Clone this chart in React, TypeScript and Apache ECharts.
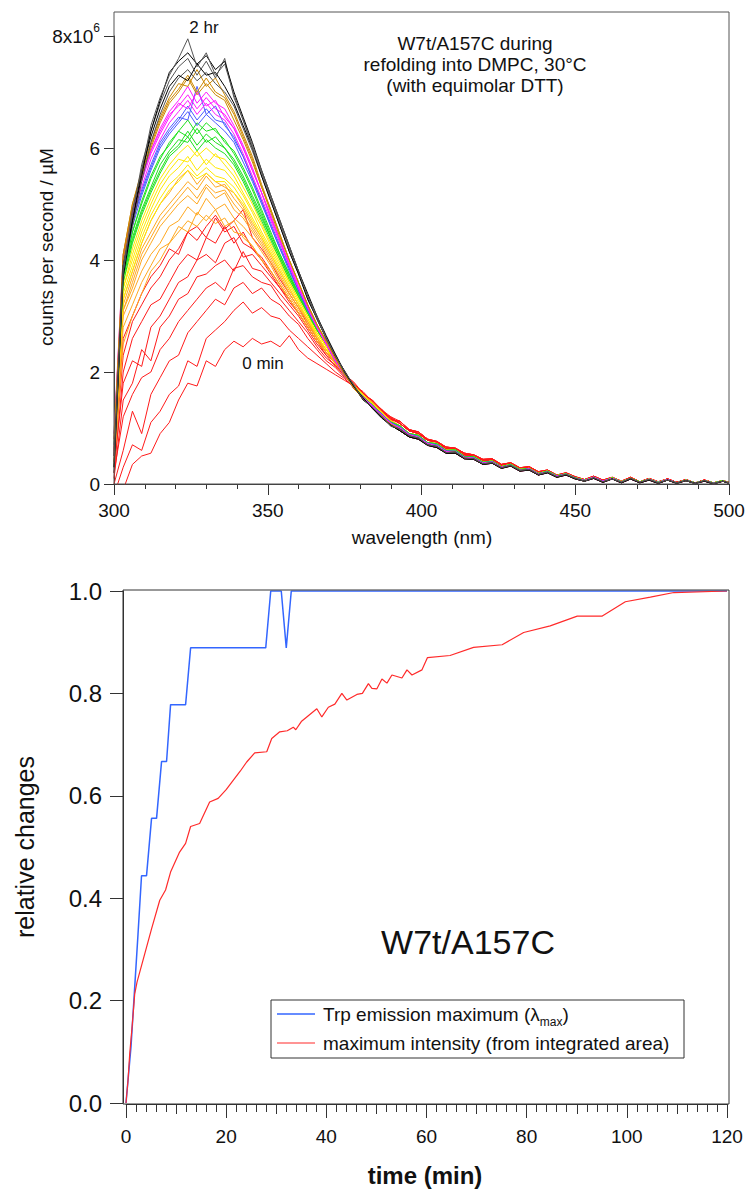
import React, { useEffect, useRef } from "react";
import * as echarts from "echarts";

// ---------- top panel: emission spectra (values in 10^6 counts per second / µM) ----------
const WAVELENGTH_HEAD = [300, 303, 306, 309, 312, 315, 318, 321, 324, 327, 330, 333, 336, 339, 342, 345, 348, 351, 354, 357, 360, 363, 366, 369, 372, 375, 378, 381, 384, 387, 390];
const WAVELENGTH_TAIL = [393, 396, 399, 402, 405, 408, 411, 414, 417, 420, 423, 426, 429, 432, 435, 438, 441, 444, 447, 450, 453, 456, 459, 462, 465, 468, 471, 474, 477, 480, 483, 486, 489, 492, 495, 498, 500];

const TAIL_EARLY = [1.08, 0.95, 0.9, 0.78, 0.75, 0.63, 0.63, 0.52, 0.51, 0.42, 0.43, 0.33, 0.37, 0.27, 0.3, 0.2, 0.24, 0.15, 0.19, 0.12, 0.07, 0.13, 0.06, 0.11, 0.04, 0.11, 0.04, 0.09, 0.03, 0.09, 0.03, 0.07, 0.02, 0.07, 0.02, 0.06, 0.02];
const TAIL_EARLY_B = [1.12, 0.97, 0.93, 0.8, 0.76, 0.66, 0.64, 0.55, 0.52, 0.44, 0.45, 0.35, 0.38, 0.29, 0.31, 0.22, 0.25, 0.16, 0.2, 0.13, 0.08, 0.14, 0.07, 0.12, 0.05, 0.12, 0.04, 0.1, 0.04, 0.09, 0.03, 0.08, 0.02, 0.07, 0.02, 0.06, 0.03];
const TAIL_MID_A = [1.02, 0.89, 0.85, 0.73, 0.7, 0.59, 0.59, 0.48, 0.47, 0.38, 0.4, 0.3, 0.34, 0.25, 0.27, 0.18, 0.22, 0.14, 0.18, 0.11, 0.06, 0.12, 0.05, 0.1, 0.04, 0.1, 0.03, 0.09, 0.03, 0.08, 0.02, 0.07, 0.02, 0.06, 0.02, 0.05, 0.02];
const TAIL_MID_B = [1.0, 0.88, 0.83, 0.72, 0.68, 0.58, 0.57, 0.47, 0.46, 0.37, 0.39, 0.3, 0.33, 0.24, 0.27, 0.18, 0.21, 0.14, 0.17, 0.1, 0.06, 0.12, 0.05, 0.1, 0.03, 0.09, 0.03, 0.08, 0.02, 0.08, 0.02, 0.06, 0.01, 0.06, 0.01, 0.05, 0.02];
const TAIL_MID_C = [1.04, 0.9, 0.87, 0.74, 0.72, 0.6, 0.61, 0.49, 0.49, 0.39, 0.41, 0.31, 0.35, 0.26, 0.28, 0.19, 0.23, 0.15, 0.18, 0.11, 0.07, 0.12, 0.05, 0.11, 0.04, 0.1, 0.04, 0.08, 0.03, 0.08, 0.02, 0.07, 0.02, 0.06, 0.02, 0.06, 0.02];
const TAIL_LATE = [0.98, 0.86, 0.82, 0.7, 0.67, 0.56, 0.57, 0.46, 0.45, 0.36, 0.38, 0.29, 0.33, 0.24, 0.26, 0.17, 0.21, 0.13, 0.17, 0.1, 0.05, 0.11, 0.04, 0.09, 0.03, 0.1, 0.03, 0.08, 0.02, 0.07, 0.02, 0.06, 0.01, 0.06, 0.01, 0.05, 0.02];
const TAIL_LATE_B = [0.95, 0.84, 0.8, 0.69, 0.65, 0.55, 0.55, 0.45, 0.44, 0.35, 0.37, 0.28, 0.32, 0.23, 0.25, 0.16, 0.2, 0.12, 0.16, 0.09, 0.05, 0.1, 0.03, 0.09, 0.02, 0.09, 0.02, 0.07, 0.01, 0.07, 0.01, 0.06, 0.01, 0.05, 0.0, 0.05, 0.01];

const RED_SPECTRA = [
  [-0.4, -0.1, 0.35, 0.5, 0.55, 0.9, 1.1, 1.5, 1.8, 1.75, 2.2, 2.1, 2.4, 2.55, 2.45, 2.6, 2.5, 2.55, 2.45, 2.65, 2.4, 2.25, 2.15, 2.05, 1.95, 1.85, 1.75, 1.62, 1.48, 1.3, 1.18],
  [-0.2, 0.3, 0.7, 0.6, 1.1, 1.3, 1.6, 1.75, 2.2, 2.1, 2.6, 2.75, 2.9, 3.1, 3.25, 3.05, 3.15, 3.0, 2.95, 2.75, 2.6, 2.45, 2.3, 2.15, 2.0, 1.88, 1.72, 1.6, 1.5, 1.33, 1.2],
  [0.0, 0.6, 1.3, 0.9, 1.6, 1.9, 2.2, 2.3, 2.7, 2.9, 3.1, 3.3, 3.2, 3.5, 3.6, 3.4, 3.5, 3.3, 3.2, 3.0, 2.85, 2.6, 2.4, 2.2, 2.08, 1.9, 1.78, 1.58, 1.47, 1.3, 1.16],
  [0.2, 1.2, 1.6, 1.9, 2.0, 2.4, 2.6, 2.9, 3.1, 3.3, 3.5, 3.6, 3.45, 3.85, 3.9, 3.7, 3.6, 3.55, 3.3, 3.1, 2.9, 2.7, 2.45, 2.25, 2.12, 1.92, 1.74, 1.63, 1.44, 1.34, 1.14],
  [0.1, 1.5, 1.8, 2.4, 2.2, 2.8, 3.0, 3.3, 3.4, 3.7, 3.75, 3.9, 4.0, 3.8, 4.15, 3.85, 3.8, 3.6, 3.4, 3.2, 3.0, 2.75, 2.5, 2.3, 2.1, 1.98, 1.78, 1.6, 1.5, 1.28, 1.2],
  [0.3, 1.8, 2.2, 2.1, 2.8, 3.0, 3.3, 3.6, 3.7, 4.0, 4.1, 3.95, 4.3, 4.4, 4.05, 4.1, 3.9, 3.7, 3.5, 3.25, 3.05, 2.8, 2.55, 2.3, 2.18, 1.95, 1.82, 1.62, 1.46, 1.33, 1.15],
  [0.2, 2.0, 2.6, 2.9, 3.2, 3.3, 3.6, 3.9, 4.1, 4.0, 4.4, 4.3, 4.6, 4.3, 4.5, 4.2, 4.05, 3.8, 3.55, 3.3, 3.05, 2.8, 2.55, 2.35, 2.15, 2.0, 1.76, 1.65, 1.47, 1.3, 1.18],
  [0.4, 2.3, 2.9, 3.2, 3.5, 3.7, 4.0, 4.2, 4.5, 4.35, 4.6, 4.8, 4.55, 4.7, 4.9, 4.4, 4.2, 3.95, 3.65, 3.4, 3.15, 2.85, 2.6, 2.35, 2.2, 1.96, 1.8, 1.6, 1.48, 1.32, 1.14],
  [0.5, 2.6, 3.0, 3.4, 3.7, 3.9, 4.2, 4.1, 4.5, 4.6, 4.4, 4.75, 4.5, 4.6, 4.3, 4.2, 4.0, 3.75, 3.5, 3.3, 3.05, 2.8, 2.55, 2.35, 2.16, 1.94, 1.77, 1.63, 1.45, 1.31, 1.17],
];
const ORANGE_SPECTRA = [
  [0.3, 2.5, 3.0, 3.4, 3.8, 4.0, 4.3, 4.5, 4.7, 4.6, 4.8, 4.65, 4.75, 4.5, 4.45, 4.25, 4.0, 3.8, 3.55, 3.3, 3.05, 2.8, 2.55, 2.35, 2.15, 1.96, 1.76, 1.6, 1.46, 1.3, 1.12],
  [0.5, 2.8, 3.2, 3.6, 3.9, 4.2, 4.3, 4.6, 4.5, 4.85, 4.7, 4.9, 4.6, 4.7, 4.4, 4.25, 4.0, 3.8, 3.55, 3.3, 3.05, 2.8, 2.55, 2.35, 2.17, 1.93, 1.78, 1.57, 1.47, 1.28, 1.14],
  [0.6, 3.0, 3.4, 3.8, 4.1, 4.3, 4.6, 4.7, 4.95, 4.8, 5.1, 4.9, 5.0, 4.75, 4.6, 4.4, 4.15, 3.9, 3.6, 3.35, 3.1, 2.85, 2.6, 2.35, 2.14, 1.97, 1.74, 1.6, 1.42, 1.29, 1.11],
  [0.4, 3.1, 3.5, 4.0, 4.3, 4.6, 4.8, 5.0, 5.15, 5.0, 5.3, 5.1, 5.2, 4.9, 4.75, 4.5, 4.25, 3.95, 3.7, 3.4, 3.15, 2.9, 2.6, 2.4, 2.16, 1.94, 1.77, 1.56, 1.45, 1.25, 1.13],
  [0.6, 3.1, 3.6, 4.1, 4.4, 4.7, 4.9, 5.1, 5.3, 5.1, 5.35, 5.2, 5.25, 5.0, 4.8, 4.55, 4.3, 4.0, 3.7, 3.4, 3.15, 2.9, 2.6, 2.4, 2.22, 1.95, 1.73, 1.6, 1.41, 1.28, 1.1],
  [0.7, 3.2, 3.7, 4.2, 4.5, 4.8, 5.0, 5.2, 5.4, 5.25, 5.5, 5.3, 5.35, 5.1, 4.9, 4.6, 4.35, 4.05, 3.75, 3.45, 3.2, 2.9, 2.65, 2.4, 2.18, 1.98, 1.76, 1.57, 1.44, 1.26, 1.12],
  [0.5, 3.3, 3.8, 4.3, 4.7, 5.0, 5.2, 5.45, 5.6, 5.35, 5.55, 5.4, 5.3, 5.2, 4.95, 4.65, 4.4, 4.1, 3.8, 3.5, 3.2, 2.95, 2.65, 2.4, 2.2, 1.94, 1.77, 1.59, 1.42, 1.29, 1.1],
];
const YELLOW_SPECTRA = [
  [0.4, 3.3, 3.8, 4.3, 4.7, 5.0, 5.25, 5.4, 5.6, 5.45, 5.55, 5.4, 5.4, 5.2, 5.0, 4.7, 4.4, 4.1, 3.8, 3.5, 3.2, 2.95, 2.65, 2.4, 2.2, 1.97, 1.74, 1.6, 1.42, 1.28, 1.1],
  [0.6, 3.4, 3.9, 4.4, 4.8, 5.1, 5.35, 5.5, 5.7, 5.5, 5.65, 5.5, 5.45, 5.3, 5.05, 4.75, 4.45, 4.15, 3.85, 3.55, 3.25, 2.95, 2.7, 2.45, 2.21, 1.93, 1.76, 1.56, 1.44, 1.26, 1.12],
  [0.8, 3.5, 4.0, 4.5, 4.9, 5.25, 5.5, 5.65, 5.85, 5.6, 5.8, 5.65, 5.6, 5.4, 5.15, 4.85, 4.5, 4.2, 3.9, 3.6, 3.3, 3.0, 2.7, 2.45, 2.2, 1.96, 1.73, 1.59, 1.41, 1.28, 1.09],
  [0.5, 3.5, 4.1, 4.6, 5.0, 5.35, 5.6, 5.8, 5.75, 5.95, 5.7, 5.9, 5.7, 5.5, 5.2, 4.9, 4.6, 4.25, 3.95, 3.6, 3.3, 3.0, 2.75, 2.45, 2.19, 1.94, 1.77, 1.57, 1.43, 1.25, 1.11],
  [0.7, 3.6, 4.2, 4.7, 5.1, 5.45, 5.7, 5.9, 6.05, 5.85, 6.0, 5.85, 5.8, 5.6, 5.3, 5.0, 4.65, 4.3, 4.0, 3.65, 3.35, 3.05, 2.75, 2.5, 2.22, 1.95, 1.74, 1.58, 1.4, 1.27, 1.1],
];
const GREEN_SPECTRA = [
  [0.6, 3.6, 4.3, 4.8, 5.2, 5.55, 5.85, 6.0, 6.2, 5.95, 6.15, 6.0, 5.9, 5.7, 5.4, 5.05, 4.7, 4.35, 4.0, 3.65, 3.35, 3.05, 2.75, 2.5, 2.2, 1.95, 1.71, 1.56, 1.4, 1.26, 1.09],
  [0.7, 3.7, 4.35, 4.85, 5.25, 5.6, 5.9, 6.05, 6.3, 6.05, 6.25, 6.1, 6.0, 5.75, 5.45, 5.1, 4.75, 4.4, 4.05, 3.7, 3.35, 3.05, 2.75, 2.5, 2.21, 1.93, 1.74, 1.54, 1.42, 1.24, 1.11],
  [0.8, 3.7, 4.4, 4.9, 5.3, 5.7, 5.95, 6.15, 6.1, 6.35, 6.1, 6.2, 6.0, 5.8, 5.5, 5.15, 4.8, 4.4, 4.05, 3.7, 3.4, 3.05, 2.75, 2.5, 2.19, 1.96, 1.7, 1.57, 1.39, 1.26, 1.08],
  [0.5, 3.7, 4.5, 5.0, 5.45, 5.8, 6.1, 6.3, 6.5, 6.25, 6.45, 6.3, 6.15, 5.9, 5.6, 5.25, 4.85, 4.45, 4.1, 3.75, 3.4, 3.1, 2.8, 2.5, 2.22, 1.94, 1.73, 1.55, 1.41, 1.23, 1.1],
  [0.9, 3.8, 4.5, 5.05, 5.5, 5.85, 6.05, 6.3, 6.2, 6.45, 6.3, 6.35, 6.1, 5.95, 5.65, 5.3, 4.9, 4.5, 4.1, 3.75, 3.4, 3.1, 2.8, 2.5, 2.2, 1.95, 1.72, 1.56, 1.4, 1.25, 1.09],
];
const BLUE_SPECTRA = [
  [0.6, 3.8, 4.6, 5.15, 5.6, 6.0, 6.25, 6.45, 6.65, 6.4, 6.6, 6.45, 6.3, 6.1, 5.75, 5.4, 5.0, 4.6, 4.2, 3.8, 3.45, 3.1, 2.8, 2.5, 2.2, 1.95, 1.72, 1.55, 1.4, 1.25, 1.1],
  [0.7, 3.9, 4.7, 5.25, 5.7, 6.1, 6.35, 6.55, 6.5, 7.1, 6.6, 6.75, 6.4, 6.2, 5.85, 5.45, 5.05, 4.65, 4.25, 3.85, 3.45, 3.1, 2.8, 2.5, 2.22, 1.93, 1.74, 1.53, 1.41, 1.23, 1.09],
  [0.5, 3.9, 4.7, 5.2, 5.65, 6.05, 6.3, 6.5, 6.75, 6.5, 6.7, 6.5, 6.45, 6.15, 5.85, 5.45, 5.05, 4.6, 4.2, 3.85, 3.45, 3.1, 2.8, 2.5, 2.19, 1.96, 1.71, 1.56, 1.38, 1.26, 1.08],
];
const MAGENTA_SPECTRA = [
  [0.6, 3.9, 4.8, 5.3, 5.8, 6.15, 6.45, 6.65, 6.85, 6.6, 6.8, 6.6, 6.5, 6.25, 5.9, 5.5, 5.1, 4.7, 4.3, 3.9, 3.5, 3.15, 2.8, 2.5, 2.2, 1.95, 1.72, 1.55, 1.38, 1.23, 1.08],
  [0.8, 4.0, 4.85, 5.4, 5.9, 6.25, 6.55, 6.8, 6.7, 7.0, 6.75, 6.85, 6.55, 6.35, 6.0, 5.6, 5.2, 4.75, 4.35, 3.9, 3.5, 3.15, 2.8, 2.5, 2.21, 1.93, 1.73, 1.53, 1.4, 1.22, 1.09],
  [0.5, 4.0, 4.9, 5.45, 5.95, 6.35, 6.65, 6.85, 7.1, 6.8, 7.0, 6.8, 6.7, 6.4, 6.05, 5.65, 5.2, 4.8, 4.35, 3.95, 3.55, 3.15, 2.85, 2.5, 2.19, 1.96, 1.7, 1.56, 1.37, 1.24, 1.07],
  [0.9, 4.1, 4.9, 5.5, 5.95, 6.3, 6.6, 6.75, 6.95, 6.7, 6.9, 6.7, 6.6, 6.35, 6.0, 5.6, 5.2, 4.75, 4.35, 3.9, 3.5, 3.15, 2.8, 2.5, 2.22, 1.94, 1.72, 1.54, 1.39, 1.21, 1.08],
];
const DARKORANGE_SPECTRA = [
  [0.6, 4.0, 4.9, 5.5, 6.0, 6.45, 6.8, 7.0, 7.25, 6.95, 7.15, 6.95, 6.85, 6.5, 6.15, 5.75, 5.3, 4.85, 4.4, 4.0, 3.6, 3.2, 2.85, 2.55, 2.25, 1.95, 1.72, 1.52, 1.36, 1.21, 1.06],
  [0.8, 4.1, 5.0, 5.6, 6.1, 6.55, 6.9, 7.15, 7.1, 7.4, 7.1, 7.25, 6.95, 6.65, 6.25, 5.85, 5.35, 4.9, 4.45, 4.0, 3.6, 3.2, 2.85, 2.55, 2.24, 1.97, 1.7, 1.54, 1.35, 1.22, 1.05],
  [0.5, 4.1, 5.0, 5.55, 6.05, 6.5, 6.85, 7.05, 7.3, 7.0, 7.25, 7.0, 6.9, 6.6, 6.2, 5.8, 5.3, 4.9, 4.45, 4.0, 3.6, 3.2, 2.85, 2.55, 2.26, 1.94, 1.73, 1.51, 1.37, 1.2, 1.07],
];
const BLACK_SPECTRA = [
  [0.5, 3.9, 4.6, 5.4, 6.1, 6.6, 7.0, 7.25, 7.4, 7.2, 7.35, 7.15, 7.0, 6.75, 6.35, 5.95, 5.5, 5.05, 4.6, 4.15, 3.75, 3.3, 2.95, 2.6, 2.3, 2.0, 1.74, 1.53, 1.35, 1.21, 1.04],
  [0.3, 3.9, 4.7, 5.6, 6.2, 6.7, 7.1, 7.3, 7.2, 7.5, 7.3, 7.35, 7.1, 6.8, 6.4, 6.0, 5.5, 5.05, 4.6, 4.15, 3.75, 3.3, 2.95, 2.6, 2.28, 2.02, 1.75, 1.5, 1.37, 1.19, 1.05],
  [0.2, 3.9, 4.8, 5.7, 6.3, 6.8, 7.2, 7.45, 7.6, 7.3, 7.55, 7.25, 7.6, 6.9, 6.5, 6.0, 5.55, 5.1, 4.65, 4.2, 3.8, 3.35, 2.95, 2.6, 2.3, 1.98, 1.77, 1.52, 1.36, 1.2, 1.03],
  [0.3, 3.7, 4.7, 5.5, 6.3, 6.85, 7.35, 7.55, 7.7, 7.5, 7.65, 7.4, 7.55, 7.0, 6.55, 6.1, 5.6, 5.15, 4.7, 4.25, 3.8, 3.4, 3.0, 2.65, 2.32, 2.0, 1.74, 1.54, 1.35, 1.18, 1.05],
  [0.4, 3.8, 4.9, 5.6, 6.4, 6.9, 7.3, 7.6, 7.95, 7.45, 7.7, 7.3, 7.5, 6.95, 6.5, 6.05, 5.6, 5.15, 4.7, 4.25, 3.8, 3.35, 3.0, 2.6, 2.29, 2.01, 1.76, 1.51, 1.37, 1.21, 1.04],
];

// ---------- bottom panel: kinetics ----------
const BLUE_TIME = [0, 1.0, 1.7, 2.4, 3.1, 4.1, 5.1, 6.1, 7.1, 8.1, 8.9, 11.9, 12.9, 27.9, 28.9, 31, 32, 33, 120];
const BLUE_VALUE = [0, 0.11, 0.22, 0.33, 0.444, 0.444, 0.556, 0.556, 0.667, 0.667, 0.778, 0.778, 0.889, 0.889, 1.0, 1.0, 0.889, 1.0, 1.0];
const RED_TIME = [0, 0.4, 0.74, 1.27, 1.74, 2.2, 3.4, 5.1, 6.74, 7.9, 8.9, 10.7, 11.9, 12.9, 14.7, 16.7, 18.4, 20.0, 21.4, 22.8, 24.1, 25.7, 28.1, 29.1, 30.7, 32.2, 33.4, 33.9, 35.0, 36.1, 38.1, 39.1, 40.4, 41.7, 43.1, 44.1, 46.1, 47.2, 48.4, 49.1, 50.1, 51.1, 52.1, 53.1, 55.1, 56.1, 57.1, 59.1, 60.2, 64.7, 69.4, 75.1, 79.4, 84.7, 90.1, 95.1, 99.7, 104.7, 109.4, 120];
const RED_VALUE = [0, 0.044, 0.096, 0.155, 0.213, 0.236, 0.279, 0.34, 0.396, 0.416, 0.451, 0.49, 0.507, 0.54, 0.546, 0.588, 0.595, 0.612, 0.63, 0.648, 0.666, 0.684, 0.686, 0.712, 0.725, 0.727, 0.734, 0.729, 0.745, 0.754, 0.77, 0.754, 0.773, 0.779, 0.8, 0.787, 0.798, 0.8, 0.819, 0.81, 0.809, 0.828, 0.82, 0.836, 0.83, 0.846, 0.836, 0.846, 0.87, 0.874, 0.89, 0.895, 0.919, 0.932, 0.951, 0.951, 0.979, 0.988, 0.997, 1.0];

const TOP_X_TICKS = [300, 350, 400, 450, 500];
const BOTTOM_X_TICKS = [0, 20, 40, 60, 80, 100, 120];

const FONT = "'Liberation Sans', Arial, Helvetica, sans-serif";
const INK = "#111";

const GROUPS = [
  { heads: RED_SPECTRA, tails: [TAIL_EARLY, TAIL_EARLY_B], colors: ["#ff1a1a"] },
  { heads: ORANGE_SPECTRA, tails: [TAIL_MID_A, TAIL_MID_C], colors: ["#ffa820"] },
  { heads: YELLOW_SPECTRA, tails: [TAIL_MID_C, TAIL_MID_A], colors: ["#ffe800"] },
  { heads: GREEN_SPECTRA, tails: [TAIL_MID_B, TAIL_MID_C], colors: ["#1ee01e"] },
  { heads: BLUE_SPECTRA, tails: [TAIL_MID_B, TAIL_MID_A], colors: ["#4b5bff"] },
  { heads: MAGENTA_SPECTRA, tails: [TAIL_MID_B, TAIL_LATE_B], colors: ["#ff1aff"] },
  { heads: DARKORANGE_SPECTRA, tails: [TAIL_LATE, TAIL_LATE_B], colors: ["#cc8800"] },
  { heads: BLACK_SPECTRA, tails: [TAIL_LATE, TAIL_LATE_B], colors: ["#555555", "#000000"] },
];

function buildOption() {
  const wavelengths = WAVELENGTH_HEAD.concat(WAVELENGTH_TAIL);
  const series: any[] = [];
  GROUPS.forEach((g) => {
    g.heads.forEach((head, k) => {
      const values = head.concat(g.tails[k % g.tails.length]);
      series.push({
        type: "line",
        xAxisIndex: 0,
        yAxisIndex: 0,
        symbol: "none",
        silent: true,
        clip: true,
        lineStyle: { width: 1, color: g.colors[k % g.colors.length] },
        data: wavelengths.map((w, i) => [w, values[i]]),
      });
    });
  });
  series.push({
    type: "line",
    name: "blue",
    xAxisIndex: 1,
    yAxisIndex: 1,
    symbol: "none",
    silent: true,
    lineStyle: { width: 1.5, color: "#3366ff" },
    data: BLUE_TIME.map((t, i) => [t, BLUE_VALUE[i]]),
  });
  series.push({
    type: "line",
    name: "red",
    xAxisIndex: 1,
    yAxisIndex: 1,
    symbol: "none",
    silent: true,
    lineStyle: { width: 1.2, color: "#ff2a2a" },
    data: RED_TIME.map((t, i) => [t, RED_VALUE[i]]),
  });

  const axisLine = { show: true, onZero: false, lineStyle: { color: "#333", width: 1 } };
  const tickStyle = { color: "#333", width: 1 };

  const text = (t: string, x: number, y: number, size: number, extra: any = {}) => ({
    type: "text",
    x,
    y,
    z: 50,
    rotation: extra.rotation || 0,
    style: {
      text: t,
      fontSize: size,
      fontFamily: FONT,
      fontWeight: extra.weight || "normal",
      fill: INK,
      align: extra.align || "center",
      verticalAlign: "middle",
      rich: extra.rich,
    },
  });

  return {
    animation: false,
    backgroundColor: "#ffffff",
    grid: [
      { left: 114, top: 36, width: 615, height: 448, containLabel: false },
      { left: 126, top: 591, width: 601, height: 512, containLabel: false },
    ],
    xAxis: [
      {
        type: "value",
        gridIndex: 0,
        min: TOP_X_TICKS[0],
        max: TOP_X_TICKS[TOP_X_TICKS.length - 1],
        interval: 50,
        axisLine,
        axisTick: { show: true, length: 11, lineStyle: tickStyle },
        minorTick: { show: true, splitNumber: 5, length: 5, lineStyle: tickStyle },
        splitLine: { show: false },
        axisLabel: { fontSize: 19, fontFamily: FONT, color: INK, margin: 17 },
      },
      {
        type: "value",
        gridIndex: 1,
        min: BOTTOM_X_TICKS[0],
        max: BOTTOM_X_TICKS[BOTTOM_X_TICKS.length - 1],
        interval: 20,
        offset: 1,
        axisLine,
        axisTick: { show: true, length: 14, lineStyle: tickStyle },
        minorTick: { show: true, splitNumber: 10, length: 8, lineStyle: tickStyle },
        splitLine: { show: false },
        axisLabel: { fontSize: 19, fontFamily: FONT, color: INK, margin: 23 },
      },
      {
        type: "value",
        gridIndex: 1,
        position: "bottom",
        min: 0,
        max: 120,
        interval: 10,
        offset: 1,
        axisLine: { show: false, onZero: false },
        axisTick: { show: true, length: 10, lineStyle: tickStyle },
        splitLine: { show: false },
        axisLabel: { show: false },
      },
    ],
    yAxis: [
      {
        type: "value",
        gridIndex: 0,
        min: 0,
        max: 8,
        interval: 2,
        axisLine,
        axisTick: { show: true, length: 10, lineStyle: tickStyle },
        splitLine: { show: false },
        axisLabel: {
          fontSize: 19,
          fontFamily: FONT,
          color: INK,
          margin: 14,
          formatter: (v: number) => (v === 8 ? "{b|8x10}{s|6}" : String(v)),
          rich: {
            b: { fontSize: 19, lineHeight: 28, fontFamily: FONT, color: INK },
            s: { fontSize: 12, lineHeight: 12, verticalAlign: "top", fontFamily: FONT, color: INK },
          },
        },
      },
      {
        type: "value",
        gridIndex: 1,
        min: 0,
        max: 1,
        interval: 0.2,
        offset: 3,
        axisLine,
        axisTick: { show: true, length: 13, lineStyle: tickStyle },
        splitLine: { show: false },
        axisLabel: {
          fontSize: 24,
          fontFamily: FONT,
          color: INK,
          margin: 21,
          formatter: (v: number) => v.toFixed(1),
        },
      },
    ],
    graphic: [
      { type: "rect", z: 40, silent: true, shape: { x: 114, y: 12, width: 615, height: 472 }, style: { fill: "none", stroke: "#555", lineWidth: 1 } },
      { type: "rect", z: 40, silent: true, shape: { x: 123, y: 590, width: 606, height: 514 }, style: { fill: "none", stroke: "#333", lineWidth: 1 } },
      text("counts per second / µM", 46, 247, 19, { rotation: Math.PI / 2 }),
      text("wavelength (nm)", 422, 537, 19),
      text("2 hr", 204, 27, 17),
      text("0 min", 263, 363, 17),
      text("W7t/A157C during", 475, 43, 19),
      text("refolding into DMPC, 30°C", 475, 64, 19),
      text("(with equimolar DTT)", 475, 85, 19),
      text("relative changes", 25, 847, 25, { rotation: Math.PI / 2 }),
      text("time (min)", 425, 1175, 24, { weight: "bold" }),
      text("W7t/A157C", 468, 942, 34),
      { type: "rect", z: 45, silent: true, shape: { x: 271, y: 1000, width: 413, height: 58 }, style: { fill: "#fff", stroke: "#333", lineWidth: 1 } },
      { type: "line", z: 50, silent: true, shape: { x1: 277, y1: 1014, x2: 315, y2: 1014 }, style: { stroke: "#3366ff", lineWidth: 1.5 } },
      { type: "line", z: 50, silent: true, shape: { x1: 277, y1: 1043, x2: 315, y2: 1043 }, style: { stroke: "#ff2a2a", lineWidth: 1.2 } },
      text("{a|Trp emission maximum (λ}{s|max}{a|)}", 323, 1014, 19, {
        align: "left",
        rich: {
          a: { fontSize: 19, lineHeight: 28, fontFamily: FONT, fill: INK, color: INK },
          s: { fontSize: 12, lineHeight: 12, verticalAlign: "bottom", fontFamily: FONT, fill: INK, color: INK },
        },
      }),
      text("maximum intensity (from integrated area)", 323, 1043, 19, { align: "left" }),
    ],
    series,
  };
}

export default function App() {
  const ref = useRef<HTMLDivElement>(null);
  useEffect(() => {
    if (!ref.current) return;
    const chart = echarts.init(ref.current, undefined, { renderer: "svg" });
    chart.setOption(buildOption() as any);
    return () => chart.dispose();
  }, []);
  return (
    <div
      ref={ref}
      style={{ position: "absolute", left: 0, top: 0, width: 749, height: 1189, background: "#fff" }}
    />
  );
}
